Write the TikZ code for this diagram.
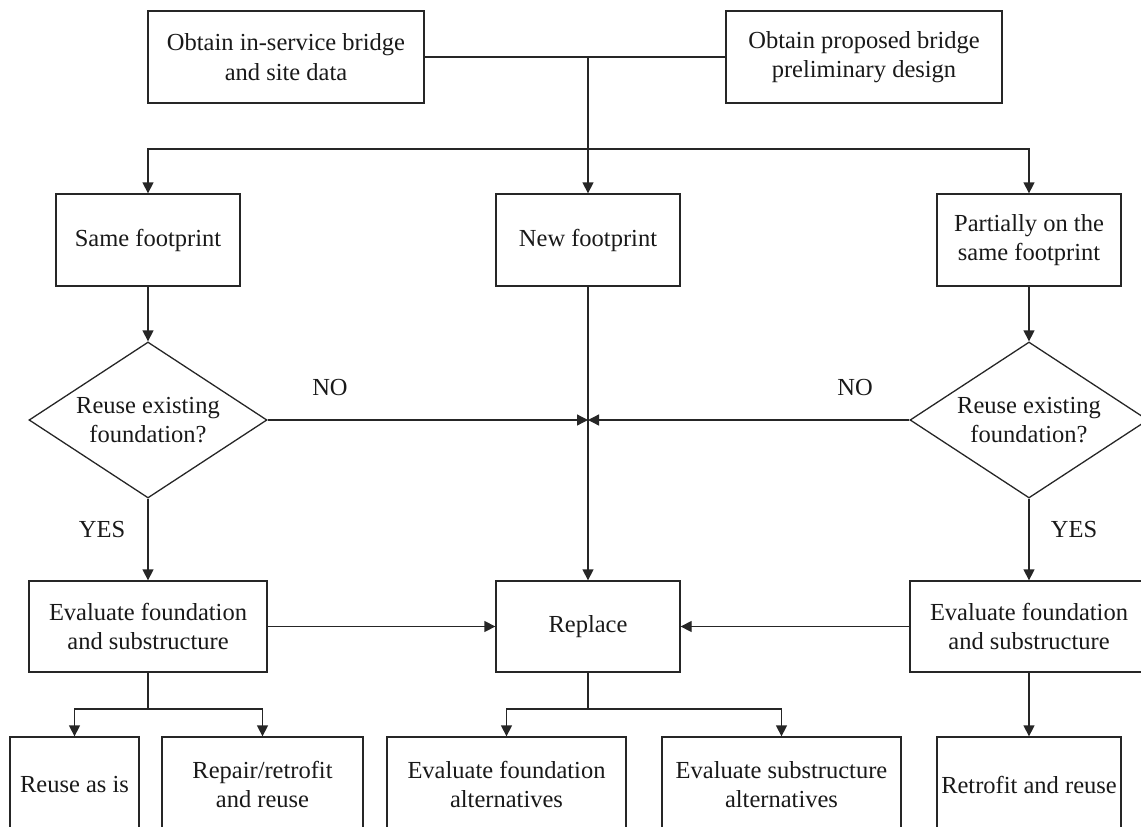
\documentclass[tikz,border=0pt]{standalone}
\usepackage{fontspec}
\setmainfont{Liberation Serif}
\usetikzlibrary{shapes.geometric,arrows.meta}
\begin{document}
\begin{tikzpicture}[x=1pt,y=-1pt,
  every node/.style={font=\fontsize{24.5}{29.4}\selectfont, align=center, inner sep=0pt, text=black!90},
  box/.style={draw=black!85, line width=1.3pt, rectangle},
  topbox/.style={box, minimum width=276pt, minimum height=92pt},
  midbox/.style={box, minimum width=184pt, minimum height=92pt},
  evalbox/.style={box, minimum width=238pt, minimum height=91pt},
  decision/.style={draw=black!85, line width=1.3pt, shape=diamond, shape aspect=1.5, minimum width=238pt, minimum height=156pt},
  conn/.style={draw=black!85, line width=1.3pt},
  arr/.style={conn, -{Triangle[length=11pt,width=11pt]}},
  lbl/.style={}
]
\useasboundingbox (0,0) rectangle (1141,827);
\clip (0,0) rectangle (1141,827);

% top row
\node[topbox] (top1) at (286,57) {Obtain in-service bridge\\and site data};
\node[topbox] (top2) at (864,57) {Obtain proposed bridge\\preliminary design};

% footprint row
\node[midbox] (same) at (148,240) {Same footprint};
\node[midbox] (new) at (588,240) {New footprint};
\node[midbox] (partial) at (1029,240) {Partially on the\\same footprint};

% decisions
\node[decision] (dia1) at (148,420) {Reuse existing\\foundation?};
\node[decision] (dia2) at (1029,420) {Reuse existing\\foundation?};

% evaluation row
\node[evalbox] (eval1) at (148,626.5) {Evaluate foundation\\and substructure};
\node[midbox, minimum height=91pt] (replace) at (588,626.5) {Replace};
\node[evalbox] (eval2) at (1029,626.5) {Evaluate foundation\\and substructure};

% bottom row (cut by the page edge)
\node[box, minimum width=129pt, minimum height=95pt] (reuse) at (74.5,784.5) {Reuse as is};
\node[box, minimum width=201pt, minimum height=95pt] (repair) at (262.5,784.5) {Repair/retrofit\\and reuse};
\node[box, minimum width=239pt, minimum height=95pt] (evfa) at (506.5,784.5) {Evaluate foundation\\alternatives};
\node[box, minimum width=239pt, minimum height=95pt] (evsa) at (781.5,784.5) {Evaluate substructure\\alternatives};
\node[box, minimum width=184pt, minimum height=95pt] (retro) at (1029,784.5) {Retrofit and reuse};

% labels
\node[lbl] (no1) at (330,388) {NO};
\node[lbl] (no2) at (855,388) {NO};
\node[lbl] (yes1) at (102,530) {YES};
\node[lbl] (yes2) at (1074,530) {YES};

% coordinates
\coordinate (j) at (588,57);
\coordinate (h) at (588,149);
\coordinate (m) at (588,420);
\coordinate (b1) at (148,709);
\coordinate (b2) at (588,709);

% connectors
\draw[conn] (top1.east) -- (top2.west);
\draw[conn] (j) -- (h);
\draw[arr] (h) -- (new.north);
\draw[arr] (h) -| (same.north);
\draw[arr] (h) -| (partial.north);

\draw[arr] (same.south) -- (dia1.north);
\draw[arr] (partial.south) -- (dia2.north);

\draw[arr] (dia1.east) -- (m);
\draw[arr] (dia2.west) -- (m);
\draw[arr] (new.south) -- (replace.north);

\draw[arr] (dia1.south) -- (eval1.north);
\draw[arr] (dia2.south) -- (eval2.north);

\draw[arr] (eval1.east) -- (replace.west);
\draw[arr] (eval2.west) -- (replace.east);

\draw[conn] (eval1.south) -- (b1);
\draw[arr] (b1) -| (reuse.north);
\draw[arr] (b1) -| (repair.north);

\draw[conn] (replace.south) -- (b2);
\draw[arr] (b2) -| (evfa.north);
\draw[arr] (b2) -| (evsa.north);

\draw[arr] (eval2.south) -- (retro.north);
\end{tikzpicture}
\end{document}
